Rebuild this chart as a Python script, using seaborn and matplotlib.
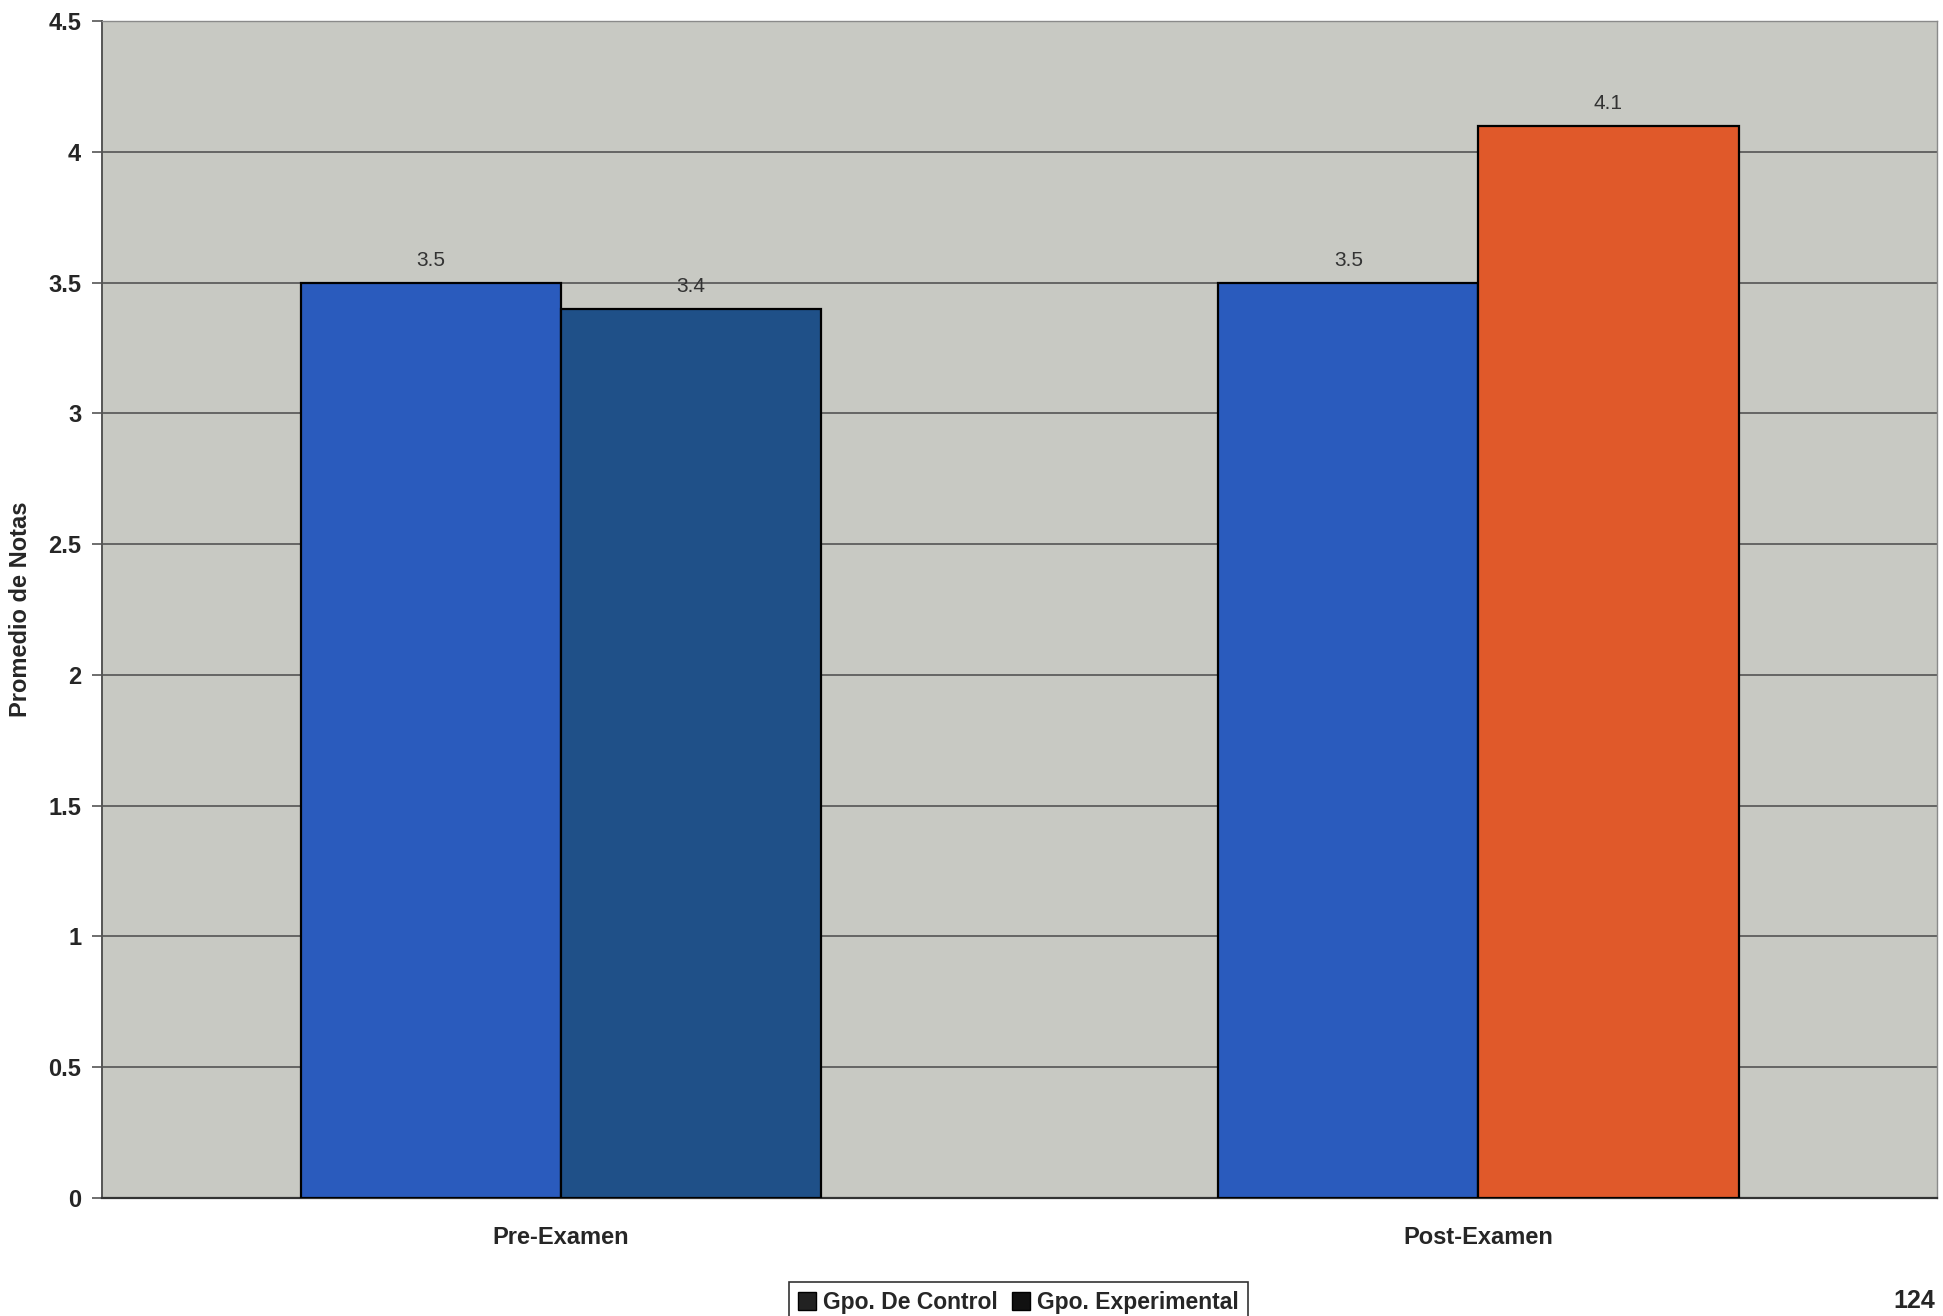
import numpy as np
import pandas as pd
import matplotlib
matplotlib.use("Agg")
import matplotlib.pyplot as plt
from matplotlib.patches import Patch
import seaborn as sns

# data
categories = ["Pre-Examen", "Post-Examen"]
groups = ["Gpo. De Control", "Gpo. Experimental"]
control = [3.5, 3.5]
experimental = [3.4, 4.1]
yticks = [0, 0.5, 1, 1.5, 2, 2.5, 3, 3.5, 4, 4.5]

df = pd.DataFrame({
    "examen": categories * 2,
    "grupo": [groups[0]] * 2 + [groups[1]] * 2,
    "nota": control + experimental,
})

sns.set_style("white")
plt.rcParams["font.family"] = ["Liberation Sans", "DejaVu Sans"]

fig = plt.figure(figsize=(19.43, 13.16), dpi=100)
ax = fig.add_axes([0.0525, 0.0897, 0.9445, 0.8943])
ax.set_facecolor("#c8c9c3")

sns.barplot(data=df, x="examen", y="nota", hue="grupo", order=categories,
            hue_order=groups, palette=["#2a5bbd", "#1f5088"], width=0.567,
            edgecolor="black", linewidth=1.6, saturation=1, legend=False, ax=ax,
            zorder=3)

# post-exam experimental bar is drawn orange in the original
ax.containers[1][1].set_facecolor("#e0592a")

for cont in ax.containers:
    for bar in cont:
        h = bar.get_height()
        ax.text(bar.get_x() + bar.get_width() / 2, h + 0.05, f"{h:.1f}",
                ha="center", va="bottom", fontsize=15, color="#333333", zorder=4)

ax.set_ylim(0, 4.5)
ax.set_xlim(-0.5, 1.5)
ax.set_yticks(yticks)
ax.set_yticklabels([f"{t:g}" for t in yticks], fontsize=17, fontweight="bold")
ax.yaxis.grid(True, color="#4a4a4a", linewidth=1.1, zorder=1)
ax.set_axisbelow(True)
ax.tick_params(axis="y", length=7, width=1.2, color="#555555", pad=8, left=True)
ax.tick_params(axis="x", length=0, pad=20)
for lab in ax.get_xticklabels():
    lab.set_fontsize(17)
    lab.set_fontweight("bold")
ax.set_xlabel("")
ax.set_ylabel("Promedio de Notas", fontsize=17, fontweight="bold", labelpad=12)

for side in ["top", "right"]:
    ax.spines[side].set_color("#8a8a8a")
    ax.spines[side].set_linewidth(1.0)
ax.spines["left"].set_color("#555555")
ax.spines["left"].set_linewidth(1.4)
ax.spines["bottom"].set_color("#333333")
ax.spines["bottom"].set_linewidth(1.6)

handles = [Patch(facecolor="#222222", edgecolor="black", label=groups[0]),
           Patch(facecolor="#111111", edgecolor="black", label=groups[1])]
leg = fig.legend(handles=handles, loc="lower center", ncol=2,
                 bbox_to_anchor=(0.524, -0.014), frameon=True, fancybox=False,
                 prop={"size": 16.5, "weight": "bold"}, handlelength=0.8,
                 handleheight=0.8, handletextpad=0.3, columnspacing=0.6,
                 borderpad=0.4)
leg.get_frame().set_edgecolor("black")
leg.get_frame().set_linewidth(1.2)

fig.text(0.985, 0.002, "124", ha="center", va="bottom", fontsize=18,
         fontweight="bold")

fig.savefig("out.png", dpi=100, facecolor="white")
